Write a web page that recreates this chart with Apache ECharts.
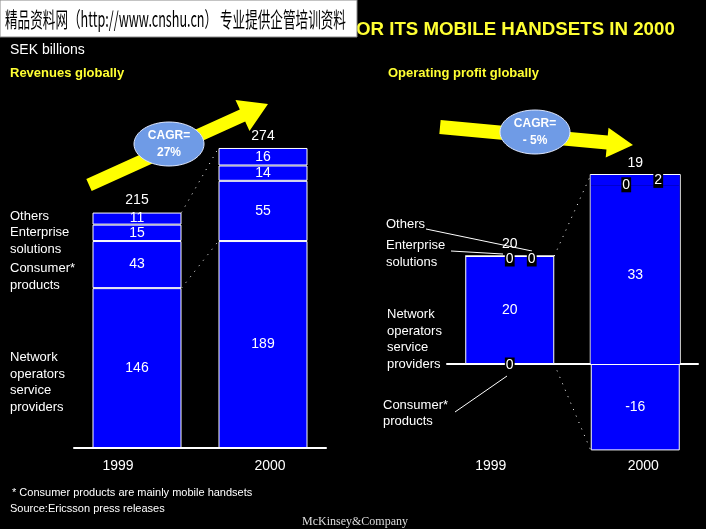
<!DOCTYPE html>
<html>
<head>
<meta charset="utf-8">
<script src="https://cdn.jsdelivr.net/npm/echarts@6/dist/echarts.min.js"></script>
<style>
  html, body { margin: 0; padding: 0; background: #000; }
  #main { width: 706px; height: 529px; }
</style>
</head>
<body>
<div id="main"></div>
<script>
// values (SEK billions)
var years = ['1999', '2000'];
var revNetwork = [146, 189];
var revConsumer = [43, 55];
var revEnterprise = [15, 14];
var revOthers = [11, 16];
var revTotal = [215, 274];

var opConsumer = [0, -16];
var opNetwork = [20, 33];
var opEnterprise = [0, 0];
var opOthers = [0, 2];
var opTotal = [20, 19];

var cagrText = ['27%', '- 5%'];

var FONT = 'Liberation Sans, Arial, sans-serif';
var BLUE = '#0000ff';
var YELLOW = '#ffff33';

var chart = echarts.init(document.getElementById('main'));

function barItem() {
  return { color: BLUE, borderColor: '#fff', borderWidth: 1 };
}
function inLabel() {
  return { show: true, position: 'inside', color: '#fff', fontSize: 14, fontFamily: FONT };
}
// black "0" boxes on the profit chart; 2000 positive part gets its outline drawn separately
function profitData(values, offsets, noBorder) {
  return values.map(function (v, i) {
    var d = { value: v };
    if (offsets && offsets[i]) {
      d.label = { show: true, position: 'inside', offset: offsets[i],
                  backgroundColor: '#000', padding: [1, 1, 0, 1] };
    }
    if (noBorder && noBorder[i]) d.itemStyle = { borderWidth: 0 };
    return d;
  });
}
function totalSeries(xi, totals, stack) {
  return {
    type: 'bar', xAxisIndex: xi, yAxisIndex: xi, stack: stack, barWidth: 89, z: 4,
    data: totals.map(function () { return 0; }),
    itemStyle: { color: 'rgba(0,0,0,0)', borderWidth: 0 },
    label: {
      show: true, position: 'top', distance: 5, color: '#fff', fontSize: 14, fontFamily: FONT,
      formatter: function (p) { return totals[p.dataIndex]; }
    },
    silent: true
  };
}
function xAxisFor(gi, showLabels) {
  return {
    type: 'category', gridIndex: gi, data: years,
    axisTick: { show: false },
    axisLine: { onZero: true, lineStyle: { color: '#fff', width: 2 } },
    axisLabel: {
      show: showLabels, margin: 11, color: '#fff', fontSize: 14, fontFamily: FONT,
      formatter: function (v) { return v === '1999' ? '{l|' + v + '}' : '{r|' + v + '}'; },
      rich: {
        l: { color: '#fff', fontSize: 14, fontFamily: FONT, padding: [0, 38, 0, 0] },
        r: { color: '#fff', fontSize: 14, fontFamily: FONT, padding: [0, 0, 0, 14] }
      }
    }
  };
}

var option = {
  backgroundColor: '#000',
  animation: false,
  grid: [
    { left: 74, top: 119.5, width: 252, height: 328.5, outerBoundsMode: 'none', containLabel: false },
    { left: 447, top: 148, width: 251, height: 324, outerBoundsMode: 'none', containLabel: false }
  ],
  xAxis: [xAxisFor(0, true), xAxisFor(1, false)],
  yAxis: [
    { type: 'value', gridIndex: 0, min: 0, max: 300, show: false, splitLine: { show: false } },
    { type: 'value', gridIndex: 1, min: -20, max: 40, show: false, splitLine: { show: false } }
  ],
  series: [
    { name: 'Network operators service providers', type: 'bar', stack: 'rev', barWidth: 89,
      data: revNetwork, itemStyle: barItem(), label: inLabel() },
    { name: 'Consumer products', type: 'bar', stack: 'rev', barWidth: 89,
      data: revConsumer, itemStyle: barItem(), label: inLabel() },
    { name: 'Enterprise solutions', type: 'bar', stack: 'rev', barWidth: 89,
      data: revEnterprise, itemStyle: barItem(), label: inLabel() },
    { name: 'Others', type: 'bar', stack: 'rev', barWidth: 89,
      data: revOthers, itemStyle: barItem(), label: inLabel() },
    totalSeries(0, revTotal, 'rev'),

    { name: 'Consumer products', type: 'bar', xAxisIndex: 1, yAxisIndex: 1, stack: 'op', barWidth: 89, z: 4,
      data: profitData(opConsumer, [[0, 1], null]), itemStyle: barItem(), label: inLabel() },
    { name: 'Network operators service providers', type: 'bar', xAxisIndex: 1, yAxisIndex: 1, stack: 'op', barWidth: 89, z: 4,
      data: profitData(opNetwork, null, [false, true]), itemStyle: barItem(), label: inLabel() },
    { name: 'Enterprise solutions', type: 'bar', xAxisIndex: 1, yAxisIndex: 1, stack: 'op', barWidth: 89, z: 4,
      data: profitData(opEnterprise, [[0, 3], [-9, -1]]),
      itemStyle: { color: BLUE, borderWidth: 0 }, label: inLabel() },
    { name: 'Others', type: 'bar', xAxisIndex: 1, yAxisIndex: 1, stack: 'op', barWidth: 89, z: 4,
      data: profitData(opOthers, [[22, 3], [23, 0]], [false, true]),
      itemStyle: barItem(), label: inLabel() },
    totalSeries(1, opTotal, 'op')
  ]
};
chart.setOption(option);

// ---- decorations: texts, arrows, connectors ----
function txt(x, y, s, size, color, weight, family, align) {
  return { type: 'text', x: x, y: y, z: 10,
    style: { text: s, fill: color || '#fff',
             font: (weight || 'normal') + ' ' + (size || 13) + 'px ' + (family || FONT),
             verticalAlign: 'middle', align: align || 'left' } };
}
function arrow(x1, y1, x2, y2, sw, hw, hl) {
  var dx = x2 - x1, dy = y2 - y1, L = Math.sqrt(dx * dx + dy * dy);
  var ux = dx / L, uy = dy / L, nx = -uy, ny = ux;
  var bx = x2 - ux * hl, by = y2 - uy * hl;
  var pts = [
    [x1 + nx * sw / 2, y1 + ny * sw / 2],
    [bx + nx * sw / 2, by + ny * sw / 2],
    [bx + nx * hw / 2, by + ny * hw / 2],
    [x2, y2],
    [bx - nx * hw / 2, by - ny * hw / 2],
    [bx - nx * sw / 2, by - ny * sw / 2],
    [x1 - nx * sw / 2, y1 - ny * sw / 2]
  ];
  return { type: 'polygon', shape: { points: pts }, style: { fill: '#ffff00' }, z: 5 };
}
function bubble(cx, cy, t) {
  return [
    { type: 'ellipse', shape: { cx: cx, cy: cy, rx: 35, ry: 22 },
      style: { fill: '#6f9be6', stroke: '#dfe8ff', lineWidth: 1 }, z: 6 },
    { type: 'text', x: cx, y: cy - 8, z: 7,
      style: { text: 'CAGR=', fill: '#fff', font: 'bold 12px ' + FONT, align: 'center', verticalAlign: 'middle' } },
    { type: 'text', x: cx, y: cy + 9, z: 7,
      style: { text: t, fill: '#fff', font: 'bold 12px ' + FONT, align: 'center', verticalAlign: 'middle' } }
  ];
}
function px(gi, cat, val) { return chart.convertToPixel({ gridIndex: gi }, [cat, val]); }
function dots(a, b) {
  return { type: 'line', shape: { x1: a[0], y1: a[1], x2: b[0], y2: b[1] },
           style: { stroke: '#fff', lineWidth: 1, lineDash: [1, 6] }, z: 4 };
}
function wire(pts) {
  return { type: 'polyline', shape: { points: pts }, style: { stroke: '#fff', lineWidth: 1, fill: null }, z: 3 };
}

var half = 44.5;
var l99top = px(0, '1999', revTotal[0]), l00top = px(0, '2000', revTotal[1]);
var l99net = px(0, '1999', revNetwork[0]), l00net = px(0, '2000', revNetwork[1]);
var r99top = px(1, '1999', opNetwork[0]), r00top = px(1, '2000', opNetwork[1] + opOthers[1]);
var r99zero = px(1, '1999', 0), r00bot = px(1, '2000', opConsumer[1]);
var r00zero = px(1, '2000', 0);

var g = [
  { type: 'rect', shape: { x: 0, y: 0, width: 357, height: 37 }, style: { fill: '#fff', stroke: '#888', lineWidth: 1 }, z: 20 },
  { type: 'text', x: 5, y: 19, scaleX: 0.6, z: 21,
    style: { text: '精品资料网（http://www.cnshu.cn） 专业提供企管培训资料', fill: '#000',
             font: '21px "Noto Sans CJK SC"', verticalAlign: 'middle' } },
  txt(356, 30, 'OR ITS MOBILE HANDSETS IN 2000', 18.7, YELLOW, 'bold'),
  txt(10, 50, 'SEK billions', 14, '#fff'),
  txt(10, 73, 'Revenues globally', 13, YELLOW, 'bold'),
  txt(388, 73, 'Operating profit globally', 13, YELLOW, 'bold'),

  txt(10, 216, 'Others'), txt(10, 232, 'Enterprise'), txt(10, 249, 'solutions'),
  txt(10, 268, 'Consumer*'), txt(10, 285, 'products'),
  txt(10, 357, 'Network'), txt(10, 374, 'operators'), txt(10, 390, 'service'), txt(10, 407, 'providers'),

  txt(386, 224, 'Others'), txt(386, 245, 'Enterprise'), txt(386, 262, 'solutions'),
  txt(387, 314, 'Network'), txt(387, 331, 'operators'), txt(387, 347, 'service'), txt(387, 364, 'providers'),
  txt(383, 405, 'Consumer*'), txt(383, 421, 'products'),

  // category labels of the profit chart (its axis line sits at zero, labels stay at the bottom)
  txt(r99zero[0] - 19, 466, years[0], 14, '#fff', 'normal', FONT, 'center'),
  txt(r00zero[0] + 8, 466, years[1], 14, '#fff', 'normal', FONT, 'center'),

  wire([[426, 229], [532, 251]]),
  wire([[451, 251], [503, 254]]),
  wire([[455, 412], [507, 376]]),

  txt(12, 493, '* Consumer products are mainly mobile handsets', 11, '#fff'),
  txt(10, 509, 'Source:Ericsson press releases', 11, '#fff'),
  txt(302, 522, 'McKinsey&Company', 12, '#ddd', 'normal', '"Liberation Serif", serif'),

  arrow(89, 185, 268, 104, 13, 34, 28),
  arrow(440, 127, 633, 145, 14, 30, 26),

  // outline of the 2000 positive profit bar (network + others)
  { type: 'rect', z: 3,
    shape: { x: r00top[0] - half - 0.5, y: r00top[1] - 0.5, width: 90, height: r00zero[1] - r00top[1] + 1 },
    style: { fill: null, stroke: '#fff', lineWidth: 1 } },

  dots([l99top[0] + half, l99top[1]], [l00top[0] - half, l00top[1]]),
  dots([l99net[0] + half, l99net[1]], [l00net[0] - half, l00net[1]]),
  dots([r99top[0] + half, r99top[1]], [r00top[0] - half, r00top[1]]),
  dots([r99zero[0] + half, r99zero[1]], [r00bot[0] - half, r00bot[1]])
].concat(bubble(169, 144, cagrText[0]), bubble(535, 132, cagrText[1]));

chart.setOption({ graphic: g });
</script>
</body>
</html>
